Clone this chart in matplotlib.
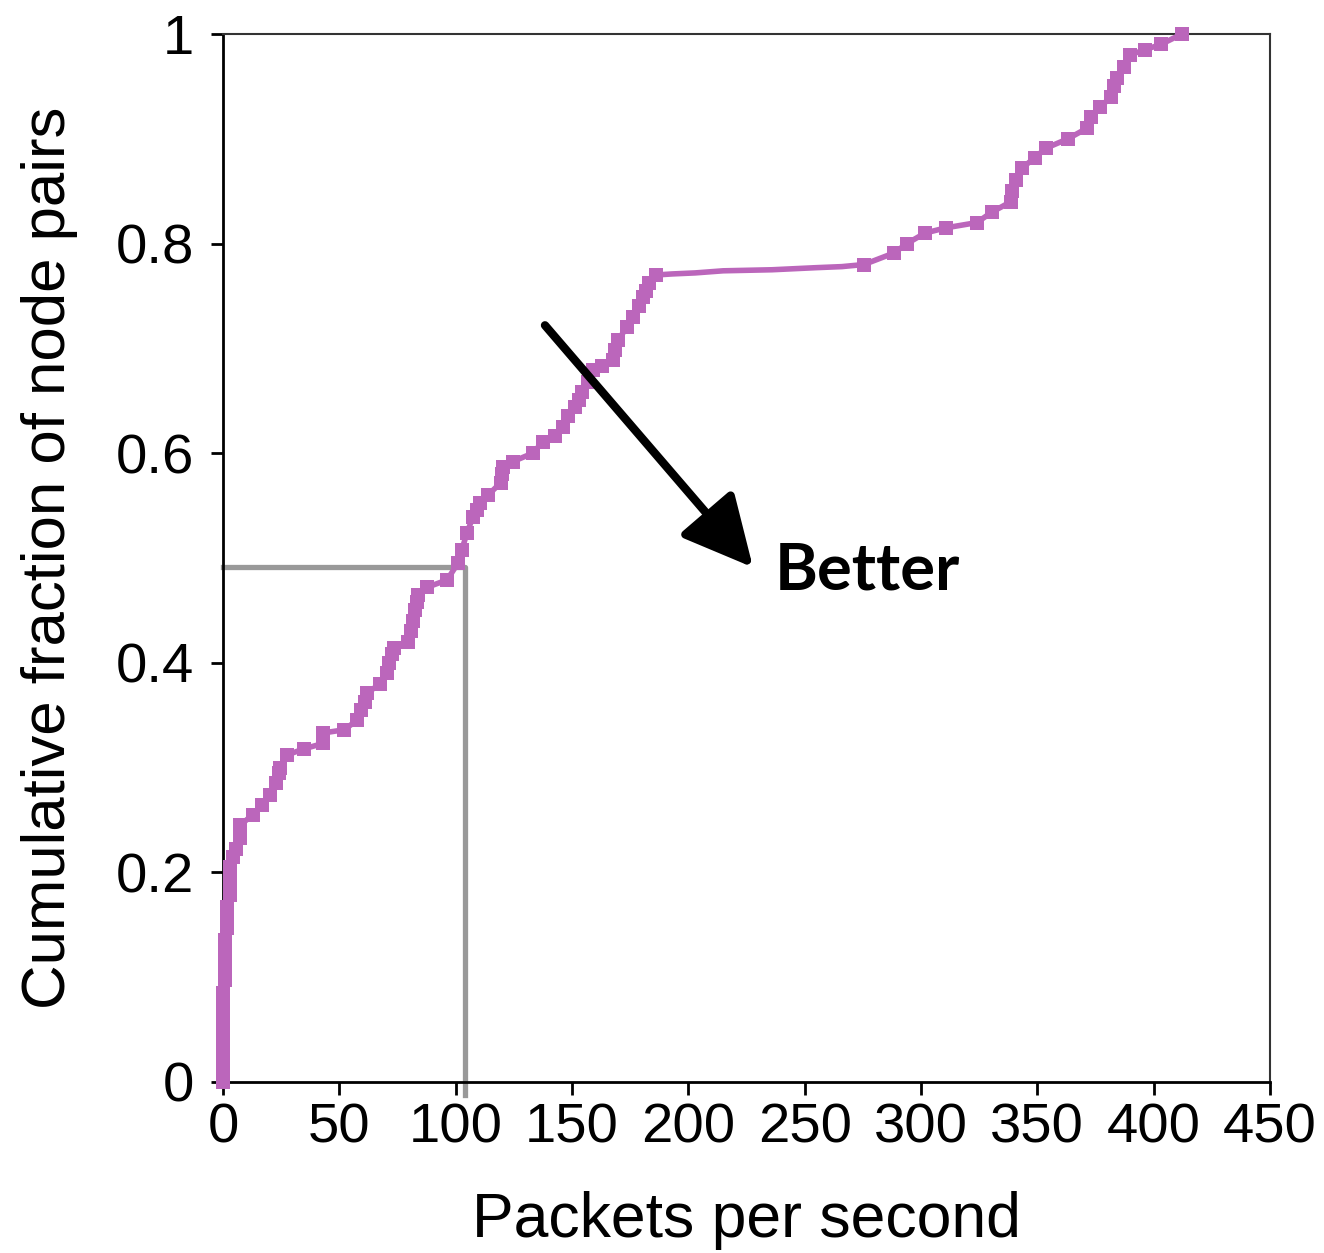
import numpy as np
import matplotlib
matplotlib.use('Agg')
import matplotlib.pyplot as plt
from matplotlib.ticker import MultipleLocator

# CDF of packets per second
pps = [0, 0, 0, 0, 0, 0, 0, 0,
       0.9, 0.9, 0.9, 0.9, 1.7, 1.7, 1.7, 3.0, 3.0, 3.0, 3.0, 4.5, 5.5,
       7.3, 7.3, 12.9, 16.8, 20.2, 23.0, 24.0, 24.5, 27.5, 35, 43, 43, 52,
       57.6, 59.5, 61, 62, 67.5, 70.5, 71.5, 72.5, 73.5, 79.5, 81, 81.8,
       82.5, 83.2, 83.8, 87.7, 96.3, 101, 102.7, 104.9, 107.4, 109, 110.5,
       113.9, 119.5, 120, 120.5, 124.6, 133.2, 137.5, 142.7, 146, 148.5,
       151.3, 153, 154.3, 157, 159, 162.9, 167.6, 168.5, 169.8, 173.6,
       176.2, 179, 180.5, 182, 183, 186,
       193, 203, 215, 236, 255, 266,
       275.5, 288.4, 294, 301.7, 310.7, 324, 330.5, 338.7, 339.2, 340.8,
       343.4, 349, 353.7, 363.2, 371.3, 373.1, 376.9, 381.7, 383, 384.2,
       387.2, 389.8, 396.3, 403.1, 412.2]
frac = [0.0, 0.012, 0.024, 0.036, 0.048, 0.06, 0.072, 0.085,
        0.097, 0.11, 0.122, 0.135, 0.147, 0.158, 0.167, 0.178, 0.19, 0.2,
        0.205, 0.215, 0.222, 0.233, 0.245, 0.255, 0.264, 0.274, 0.285,
        0.295, 0.30, 0.312, 0.318, 0.323, 0.333, 0.336, 0.345, 0.355, 0.363,
        0.371, 0.38, 0.39, 0.40, 0.408, 0.414, 0.42, 0.43, 0.44, 0.45,
        0.458, 0.465, 0.472, 0.479, 0.495, 0.508, 0.524, 0.539, 0.546,
        0.552, 0.56, 0.572, 0.58, 0.587, 0.592, 0.600, 0.611, 0.616, 0.625,
        0.635, 0.644, 0.651, 0.658, 0.668, 0.679, 0.683, 0.689, 0.698,
        0.708, 0.72, 0.73, 0.74, 0.749, 0.755, 0.762, 0.77,
        0.771, 0.772, 0.774, 0.775, 0.777, 0.778,
        0.78, 0.791, 0.80, 0.81, 0.815, 0.82, 0.83, 0.84, 0.85, 0.861,
        0.872, 0.882, 0.891, 0.90, 0.91, 0.921, 0.93, 0.94, 0.95, 0.958,
        0.968, 0.98, 0.985, 0.99, 1.0]

# median marker
median_x = 104
median_y = 0.491

fig = plt.figure(figsize=(13.24, 12.53), dpi=100)
ax = fig.add_axes([0.1684, 0.1365, 0.7908, 0.8364])

# no big markers along the flat stretch
marks = [i for i, v in enumerate(pps) if not (190 < v < 270)]

ax.plot(pps, frac, '-s', color='#bb66bb', lw=4, markersize=10.5,
        markeredgewidth=0, markevery=marks, clip_on=False, zorder=3)

ax.plot([0, median_x, median_x], [median_y, median_y, -0.012], color='#999999',
        lw=3.8, clip_on=False, zorder=2)

ax.annotate('', xy=(227.8, 0.491), xytext=(138.4, 0.722),
            arrowprops=dict(arrowstyle='-|>,head_length=1.0,head_width=0.5',
                            mutation_scale=43, lw=6, color='black',
                            shrinkA=0, shrinkB=0))
ax.text(237.3, 0.4695, 'Better', fontsize=47, fontweight='bold',
        family='Lato', va='baseline', ha='left')

ax.set_xlim(0, 450)
ax.set_ylim(0, 1)
ax.xaxis.set_major_locator(MultipleLocator(50))
ax.set_yticks([0, 0.2, 0.4, 0.6, 0.8, 1])
ax.set_yticklabels(['0', '0.2', '0.4', '0.6', '0.8', '1'])

for t in ax.get_xticklabels() + ax.get_yticklabels():
    t.set_family('Liberation Sans')
ax.tick_params(axis='both', labelsize=40.5, length=9, width=2, direction='out')
ax.tick_params(axis='x', pad=6)
ax.tick_params(axis='y', pad=12)

for s in ['left', 'bottom']:
    ax.spines[s].set_linewidth(2)
for s in ['top', 'right']:
    ax.spines[s].set_linewidth(1.5)
    ax.spines[s].set_color('#333333')

ax.set_xlabel('Packets per second', fontsize=45, family='Liberation Sans', labelpad=26)
ax.set_ylabel('Cumulative fraction of node pairs', fontsize=44.5,
              family='Liberation Sans', labelpad=27)

plt.savefig('out.png', dpi=100)
